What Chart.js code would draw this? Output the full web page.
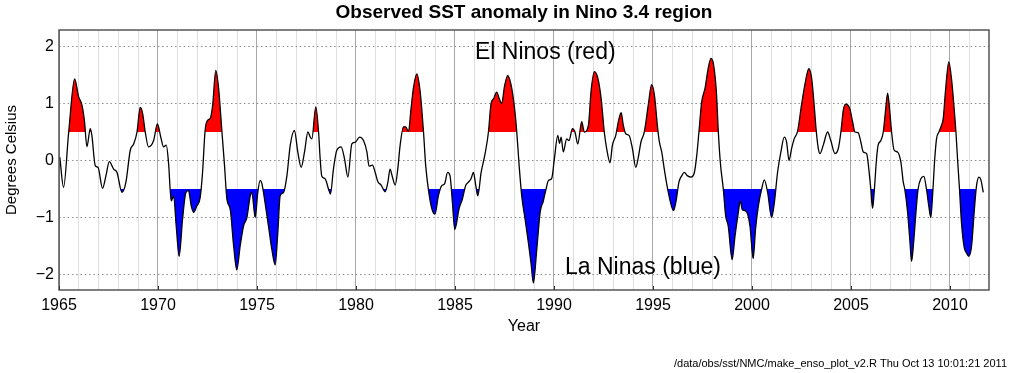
<!DOCTYPE html>
<html>
<head>
<meta charset="utf-8">
<title>Observed SST anomaly in Nino 3.4 region</title>
<script src="https://cdn.jsdelivr.net/npm/chart.js@4.4.1/dist/chart.umd.min.js"></script>
<style>
    html, body { margin: 0; padding: 0; background: #ffffff; }
    #enso { display: block; }
</style>
</head>
<body>
<canvas id="enso" width="1010" height="373"></canvas>
<script>
// Nino 3.4 SST anomaly (decimal year, degrees C)
const years = [
    1965.04, 1965.23, 1965.49, 1965.79, 1965.99, 1966.16, 1966.29, 1966.41, 1966.58, 1966.66,
    1966.83, 1966.97, 1967.20, 1967.37, 1967.54, 1967.76, 1967.93, 1968.18, 1968.38, 1968.60,
    1968.77, 1968.94, 1969.10, 1969.22, 1969.36, 1969.52, 1969.78, 1969.97, 1970.16, 1970.28,
    1970.42, 1970.53, 1970.67, 1970.79, 1970.92, 1971.07, 1971.24, 1971.41, 1971.54, 1971.68,
    1971.80, 1971.96, 1972.13, 1972.25, 1972.38, 1972.52, 1972.64, 1972.76, 1972.92, 1973.06,
    1973.23, 1973.36, 1973.48, 1973.65, 1973.82, 1973.98, 1974.15, 1974.32, 1974.49, 1974.66,
    1974.74, 1974.91, 1975.04, 1975.16, 1975.25, 1975.38, 1975.58, 1975.75, 1975.92, 1976.05,
    1976.17, 1976.34, 1976.51, 1976.68, 1976.89, 1977.06, 1977.23, 1977.40, 1977.57, 1977.69,
    1977.77, 1977.97, 1978.11, 1978.19, 1978.27, 1978.44, 1978.61, 1978.71, 1978.86, 1979.03,
    1979.25, 1979.42, 1979.59, 1979.79, 1979.96, 1980.18, 1980.38, 1980.55, 1980.66, 1980.83,
    1980.97, 1981.10, 1981.27, 1981.47, 1981.61, 1981.72, 1981.84, 1981.98, 1982.11, 1982.23,
    1982.40, 1982.51, 1982.65, 1982.78, 1982.90, 1983.07, 1983.24, 1983.41, 1983.52, 1983.69,
    1983.86, 1983.99, 1984.16, 1984.33, 1984.47, 1984.63, 1984.75, 1984.87, 1984.99, 1985.21,
    1985.37, 1985.54, 1985.68, 1985.81, 1985.93, 1986.05, 1986.15, 1986.32, 1986.52, 1986.69,
    1986.82, 1986.94, 1987.11, 1987.23, 1987.36, 1987.50, 1987.66, 1987.83, 1988.00, 1988.12,
    1988.24, 1988.37, 1988.54, 1988.71, 1988.84, 1988.96, 1989.13, 1989.30, 1989.46, 1989.58,
    1989.72, 1989.88, 1990.02, 1990.19, 1990.28, 1990.36, 1990.47, 1990.64, 1990.76, 1990.93,
    1991.06, 1991.20, 1991.40, 1991.53, 1991.74, 1991.87, 1992.04, 1992.21, 1992.38, 1992.54,
    1992.66, 1992.83, 1992.95, 1993.12, 1993.25, 1993.39, 1993.50, 1993.62, 1993.79, 1993.96,
    1994.13, 1994.26, 1994.39, 1994.56, 1994.76, 1994.93, 1995.07, 1995.24, 1995.32, 1995.44,
    1995.57, 1995.74, 1995.91, 1996.04, 1996.18, 1996.31, 1996.45, 1996.58, 1996.75, 1996.92,
    1997.09, 1997.21, 1997.32, 1997.46, 1997.63, 1997.79, 1997.93, 1998.06, 1998.20, 1998.30,
    1998.40, 1998.55, 1998.67, 1998.80, 1999.00, 1999.14, 1999.31, 1999.41, 1999.51, 1999.64,
    1999.78, 1999.90, 2000.06, 2000.18, 2000.32, 2000.49, 2000.62, 2000.79, 2000.99, 2001.13,
    2001.29, 2001.46, 2001.63, 2001.75, 2001.87, 2002.00, 2002.13, 2002.30, 2002.50, 2002.67,
    2002.87, 2003.01, 2003.14, 2003.25, 2003.35, 2003.43, 2003.60, 2003.82, 2003.98, 2004.19,
    2004.36, 2004.49, 2004.61, 2004.73, 2004.94, 2005.08, 2005.20, 2005.36, 2005.50, 2005.62,
    2005.79, 2005.90, 2006.00, 2006.09, 2006.17, 2006.29, 2006.37, 2006.51, 2006.63, 2006.74,
    2006.85, 2006.96, 2007.05, 2007.18, 2007.35, 2007.52, 2007.64, 2007.72, 2007.86, 2007.97,
    2008.06, 2008.16, 2008.28, 2008.39, 2008.53, 2008.68, 2008.81, 2008.93, 2009.03, 2009.13,
    2009.23, 2009.32, 2009.44, 2009.54, 2009.66, 2009.77, 2009.94, 2010.08, 2010.21, 2010.30,
    2010.38, 2010.48, 2010.58, 2010.72, 2010.83, 2010.95, 2011.09, 2011.22, 2011.34, 2011.46,
    2011.56, 2011.68
];
const sstAnomaly = [
    0.06, -0.47, 0.50, 1.43, 1.12, 0.97, 0.68, 0.24, 0.56, 0.44,
    -0.09, -0.12, -0.49, -0.27, -0.02, -0.15, -0.21, -0.56, -0.38, 0.18,
    0.29, 0.50, 0.93, 0.83, 0.49, 0.24, 0.35, 0.64, 0.38, 0.24,
    0.27, -0.03, -0.71, -0.62, -1.15, -1.68, -1.03, -0.56, -0.53, -0.80,
    -0.91, -0.80, -0.65, -0.21, 0.53, 0.71, 0.74, 0.97, 1.58, 1.27,
    0.50, -0.09, -0.68, -0.86, -1.50, -1.92, -1.50, -1.15, -1.00, -0.62,
    -0.56, -1.00, -0.56, -0.35, -0.41, -0.68, -1.15, -1.56, -1.83, -1.27,
    -0.62, -0.56, -0.27, 0.27, 0.53, 0.15, -0.12, 0.15, 0.50, 0.41,
    0.38, 0.94, 0.50, 0.03, -0.27, -0.32, -0.50, -0.59, -0.15, 0.18,
    0.24, 0.03, -0.29, 0.29, 0.32, 0.41, 0.35, 0.15, -0.10, -0.08,
    -0.21, -0.37, -0.43, -0.55, -0.38, -0.15, -0.29, -0.43, -0.15, 0.27,
    0.59, 0.59, 0.51, 0.91, 1.27, 1.52, 1.21, 0.50, -0.09, -0.59,
    -0.88, -0.94, -0.62, -0.44, -0.41, -0.21, -0.27, -0.74, -1.21, -0.84,
    -0.68, -0.44, -0.38, -0.32, -0.21, -0.44, -0.62, -0.21, 0.12, 0.50,
    1.00, 1.08, 1.20, 1.09, 1.00, 1.30, 1.49, 1.33, 0.94, 0.50,
    -0.09, -0.62, -1.03, -1.45, -1.80, -2.15, -1.56, -0.91, -0.71, -0.53,
    -0.35, -0.32, 0.03, 0.44, 0.30, 0.41, 0.15, 0.38, 0.35, 0.56,
    0.50, 0.29, 0.68, 0.50, 0.62, 1.21, 1.56, 1.45, 1.09, 0.50,
    0.21, -0.04, 0.27, 0.44, 0.68, 0.84, 0.62, 0.47, 0.44, 0.21,
    -0.12, 0.06, 0.32, 0.50, 0.97, 1.33, 1.15, 0.55, 0.33, 0.15,
    -0.15, -0.50, -0.77, -0.88, -0.68, -0.38, -0.27, -0.21, -0.27, -0.29,
    -0.21, 0.09, 0.50, 1.03, 1.27, 1.62, 1.79, 1.68, 1.21, 0.50,
    -0.03, -0.50, -0.97, -1.15, -1.74, -1.33, -0.91, -0.71, -0.86, -0.88,
    -0.94, -1.15, -1.72, -1.20, -0.80, -0.50, -0.34, -0.56, -1.00, -0.74,
    -0.21, 0.15, 0.41, 0.32, 0.00, 0.21, 0.38, 0.51, 0.97, 1.33,
    1.61, 1.45, 0.97, 0.50, 0.21, 0.12, 0.27, 0.50, 0.35, 0.12,
    0.21, 0.50, 0.88, 0.99, 0.91, 0.68, 0.50, 0.49, 0.32, 0.15,
    0.12, -0.15, -0.50, -0.84, -0.56, 0.03, 0.27, 0.35, 0.50, 0.86,
    1.18, 0.86, 0.50, 0.18, 0.15, -0.03, -0.38, -0.51, -0.91, -1.39,
    -1.77, -1.45, -0.91, -0.50, -0.32, -0.28, -0.50, -0.80, -1.00, -0.56,
    0.03, 0.38, 0.50, 0.59, 0.74, 1.21, 1.73, 1.42, 0.91, 0.50,
    0.03, -0.50, -1.09, -1.53, -1.62, -1.68, -1.50, -0.91, -0.44, -0.29,
    -0.34, -0.56
];

// Axis ticks and thresholds
const yearTicks = [];
for (let y = 1965; y <= 2011; y++) yearTicks.push(y);
const tempTicks = [-2, -1, 0, 1, 2];
const elNinoLevel = 0.5;
const laNinaLevel = -0.5;
// y range picked so the +/-0.5 levels fall on whole pixels (no hairline from the fill clip)
const yMin = -2.2719;
const yMax = 2.2895;

const titleText = 'Observed SST anomaly in Nino 3.4 region';
const footerText = '/data/obs/sst/NMC/make_enso_plot_v2.R Thu Oct 13 10:01:21 2011';
const FONT = '"Liberation Sans", Arial, Helvetica, sans-serif';

const points = years.map((yr, i) => ({ x: yr, y: sstAnomaly[i] }));

// Frame, title, labels inside the plot and the footer line
const decorations = {
    id: 'decorations',
    afterDatasetsDraw(chart) {
        const { ctx, chartArea: a } = chart;
        ctx.save();
        ctx.strokeStyle = '#555555';
        ctx.lineWidth = 1.5;
        ctx.strokeRect(a.left, a.top, a.right - a.left, a.bottom - a.top);

        // small inward ticks on the bottom axis every 5 years
        const xs = chart.scales.x;
        ctx.lineWidth = 1;
        ctx.strokeStyle = '#333333';
        yearTicks.filter(v => v % 5 === 0).forEach(v => {
            const px = Math.round(xs.getPixelForValue(v)) + 0.5;
            ctx.beginPath();
            ctx.moveTo(px, a.bottom);
            ctx.lineTo(px, a.bottom - 4);
            ctx.stroke();
        });

        ctx.fillStyle = '#000000';
        ctx.textBaseline = 'alphabetic';
        ctx.font = '23px ' + FONT;
        ctx.textAlign = 'left';
        ctx.fillText('El Ninos (red)', 475, 59);
        ctx.fillText('La Ninas (blue)', 565, 274);
        ctx.restore();
    },
    afterDraw(chart) {
        const { ctx, chartArea: a } = chart;
        ctx.save();
        ctx.fillStyle = '#000000';
        ctx.textAlign = 'center';
        ctx.textBaseline = 'middle';
        ctx.font = 'bold 19px ' + FONT;
        ctx.fillText(titleText, (a.left + a.right) / 2, 13);
        ctx.textAlign = 'right';
        ctx.textBaseline = 'alphabetic';
        ctx.font = '11px ' + FONT;
        ctx.fillText(footerText, 1007, 367);
        ctx.restore();
    }
};

function initEnsoChart() {
    const ctx = document.getElementById('enso').getContext('2d');
    new Chart(ctx, {
        type: 'line',
        data: {
            datasets: [
                {
                    // black anomaly line, red where above +0.5
                    data: points,
                    borderColor: '#000000',
                    borderWidth: 1.3,
                    pointRadius: 0,
                    cubicInterpolationMode: 'monotone',
                    fill: { target: { value: elNinoLevel }, above: '#ff0000', below: 'rgba(0,0,0,0)' }
                },
                {
                    // same series, blue where below -0.5
                    data: points,
                    borderWidth: 0,
                    borderColor: 'rgba(0,0,0,0)',
                    pointRadius: 0,
                    cubicInterpolationMode: 'monotone',
                    fill: { target: { value: laNinaLevel }, above: 'rgba(0,0,0,0)', below: '#0000ff' }
                }
            ]
        },
        options: {
            responsive: false,
            animation: false,
            devicePixelRatio: 1,
            layout: { padding: { top: 30, right: 21, bottom: 37, left: 0 } },
            plugins: {
                legend: { display: false },
                tooltip: { enabled: false },
                title: { display: false }
            },
            scales: {
                x: {
                    type: 'linear',
                    min: 1965,
                    max: 2011.97,
                    afterFit(scale) { scale.height = 46; },
                    afterBuildTicks(scale) { scale.ticks = yearTicks.map(v => ({ value: v })); },
                    border: { display: false },
                    grid: {
                        drawTicks: false,
                        lineWidth: 1,
                        color: c => (c.tick && c.tick.value % 5 === 0) ? '#a8a8a8' : '#e0e0e0'
                    },
                    ticks: {
                        autoSkip: false,
                        maxRotation: 0,
                        padding: 6,
                        color: '#000000',
                        font: { family: FONT, size: 16 },
                        callback: v => (v % 5 === 0 ? String(v) : '')
                    },
                    title: {
                        display: true,
                        text: 'Year',
                        color: '#000000',
                        padding: { top: 0, bottom: 0 },
                        font: { family: FONT, size: 16 }
                    }
                },
                y: {
                    min: yMin,
                    max: yMax,
                    afterFit(scale) { scale.width = 59; },
                    afterBuildTicks(scale) { scale.ticks = tempTicks.map(v => ({ value: v })); },
                    border: { display: false, dash: [1.5, 2.8] },
                    grid: {
                        drawTicks: false,
                        lineWidth: 1,
                        color: '#8a8a8a'
                    },
                    ticks: {
                        padding: 5,
                        color: '#000000',
                        font: { family: FONT, size: 16 },
                        callback: v => (v < 0 ? '\u2212' + Math.abs(v) : String(v))
                    },
                    title: {
                        display: true,
                        text: 'Degrees Celsius',
                        color: '#000000',
                        padding: { top: 3, bottom: 0 },
                        font: { family: FONT, size: 15 }
                    }
                }
            }
        },
        plugins: [decorations]
    });
}

document.addEventListener('DOMContentLoaded', initEnsoChart);
</script>
</body>
</html>
